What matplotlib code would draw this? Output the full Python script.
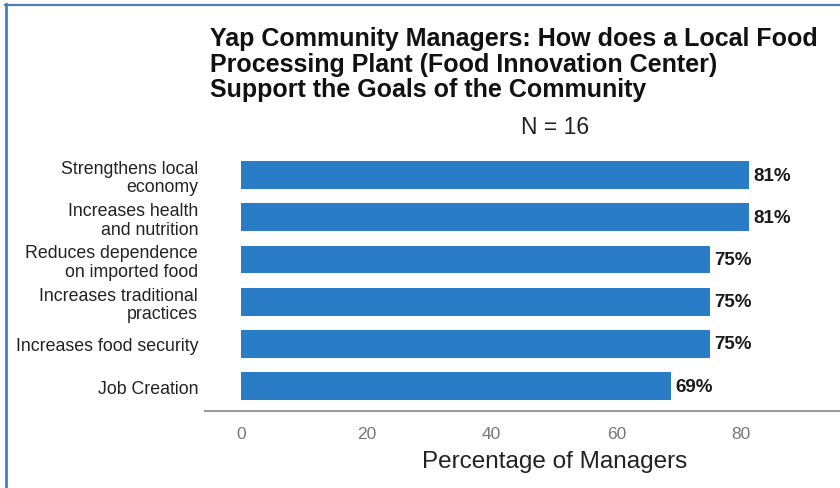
import matplotlib
matplotlib.use("Agg")
import matplotlib.pyplot as plt
from matplotlib.lines import Line2D

plt.rcParams['font.family'] = ['Liberation Sans', 'DejaVu Sans']

categories = [
    "Strengthens local\neconomy",
    "Increases health\nand nutrition",
    "Reduces dependence\non imported food",
    "Increases traditional\npractices",
    "Increases food security",
    "Job Creation",
]
percentages = [81.25, 81.25, 75.0, 75.0, 75.0, 68.75]
value_labels = ["81%", "81%", "75%", "75%", "75%", "69%"]
x_ticks = [0, 20, 40, 60, 80]

title = ("Yap Community Managers: How does a Local Food\n"
         "Processing Plant (Food Innovation Center)\n"
         "Support the Goals of the Community")
subtitle = "N = 16"
x_label = "Percentage of Managers"

W, H = 840, 489
fig = plt.figure(figsize=(W / 100, H / 100), dpi=100)
fig.patch.set_facecolor("white")

ax_left, ax_top, ax_bottom = 205, 150, 412
ax = fig.add_axes([ax_left / W, 1 - ax_bottom / H, 1 - ax_left / W,
                   (ax_bottom - ax_top) / H])
ax.set_facecolor("none")

y = list(range(len(categories)))
ax.barh(y, percentages, height=0.66, color="#2A7CC6", edgecolor="none")
for yi, v, lab in zip(y, percentages, value_labels):
    ax.text(v + 0.7, yi, lab, va="center", ha="left", fontsize=13.5,
            fontweight="bold", color="#1a1a1a")

ax.set_ylim(5.59, -0.616)
ax.set_xlim(-5.8, 95.8)
ax.set_yticks(y)
ax.set_yticklabels(categories, fontsize=12.8, color="#222222", linespacing=1.1)
ax.set_xticks(x_ticks)
ax.set_xticklabels([str(t) for t in x_ticks], fontsize=12.5, color="#777777")
ax.tick_params(axis="both", length=0)
ax.tick_params(axis="y", pad=5)
ax.tick_params(axis="x", pad=11)
for side in ["top", "right", "left"]:
    ax.spines[side].set_visible(False)
ax.spines["bottom"].set_color("#9a9a9a")
ax.spines["bottom"].set_linewidth(1.5)
ax.set_xlabel(x_label, fontsize=17.5, color="#222222")
ax.xaxis.set_label_coords((555 - ax_left) / (W - ax_left), -(462 - ax_bottom) / (ax_bottom - ax_top))
ax.xaxis.label.set_va("center")

fig.text(210 / W, 1 - 27 / H, title, ha="left", va="top", fontsize=18,
         fontweight="bold", color="#111111", linespacing=1.09)
fig.text(555 / W, 1 - 127 / H, subtitle, ha="center", va="center",
         fontsize=16.5, color="#222222")

# frame lines along the top and left edges
fig.add_artist(Line2D([5.5 / W, 5.5 / W], [0, 1 - 5 / H], transform=fig.transFigure,
                      color="#4A7EBB", linewidth=2.0))
fig.add_artist(Line2D([5 / W, 1], [1 - 6 / H, 1 - 6 / H], transform=fig.transFigure,
                      color="#4A7EBB", linewidth=1.6))

fig.savefig("out.png", dpi=100, facecolor="white")
